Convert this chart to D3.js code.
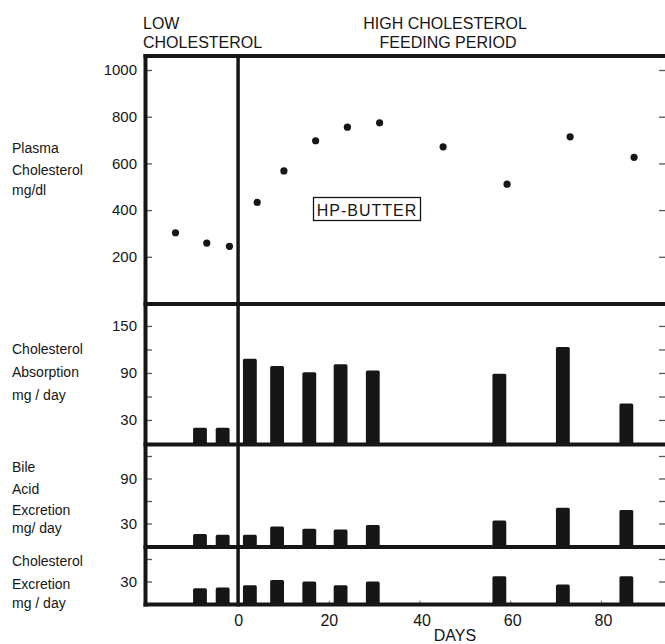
<!DOCTYPE html>
<html>
<head>
<meta charset="utf-8">
<script src="https://cdn.jsdelivr.net/npm/d3@7"></script>
<style>
  body { margin: 0; background: #fff; }
  svg { display: block; }
  text { font-family: "Liberation Sans", Arial, sans-serif; fill: #161616; }
</style>
</head>
<body>
<svg id="chart" width="665" height="644"></svg>
<script>
// values (days from start of high cholesterol feeding)
const plasmaDays = [-13.8, -6.9, -1.9, 4.2, 10.1, 17.1, 24.1, 31.2, 45.2, 59.3, 73.2, 87.3]
const plasmaChol = [303, 259, 245, 433, 568, 697, 755, 774, 671, 511, 714, 626]

const barDays = [-8.4, -3.4, 2.6, 8.6, 15.7, 22.6, 29.7, 57.6, 71.6, 85.6]
const absorption = [20, 20, 108, 99, 91, 101, 93, 89, 123, 51]
const bileAcid = [16, 15, 15, 26, 23, 22, 28, 34, 51, 48]
const cholExcretion = [21, 22, 25, 32, 30, 25, 30, 37, 26, 37]

const dayTicks = [0, 20, 40, 60, 80]
const plasmaTicks = [200, 400, 600, 800, 1000]
const absorptionTicks = [30, 60, 90, 120, 150]
const bileTicks = [30, 60, 90, 120]
const excretionTicks = [30, 60]

const ink = '#161616'
const svg = d3.select('#chart')

const x = d3.scaleLinear().domain([-20.3, 95]).range([146, 669])
const barW = x(3.05) - x(0)

const yPlasma = d3.scaleLinear().domain([0, 1060]).range([303.5, 56])
const yAbs = d3.scaleLinear().domain([0, 178]).range([443.5, 304])
const yBile = d3.scaleLinear().domain([0, 136]).range([546, 444])
const yExcr = d3.scaleLinear().domain([0, 76]).range([604, 547])

// y axes, ticks point inward on both sides
const drawYAxis = (scale, ticks, labelled) => {
  const left = svg.append('g').attr('transform', `translate(${x.range()[0]},0)`)
    .call(d3.axisLeft(scale).tickValues(ticks).tickSize(-6).tickPadding(9)
      .tickFormat(d => labelled.includes(d) ? d : ''))
  const right = svg.append('g').attr('transform', `translate(666,0)`)
    .call(d3.axisRight(scale).tickValues(ticks).tickSize(-7).tickFormat(''))
  ;[left, right].forEach(g => {
    g.select('.domain').remove()
    g.selectAll('.tick line').attr('stroke', '#555').attr('stroke-width', 1.3)
  })
  left.selectAll('.tick text').attr('font-size', 15).attr('fill', ink)
}

drawYAxis(yPlasma, plasmaTicks, plasmaTicks)
drawYAxis(yAbs, absorptionTicks, [30, 90, 150])
drawYAxis(yBile, bileTicks, [30, 90])
drawYAxis(yExcr, excretionTicks, [30])

// x axis
const xAxis = svg.append('g').attr('transform', 'translate(0,604.5)')
  .call(d3.axisBottom(x).tickValues(dayTicks).tickSize(-4).tickPadding(10))
xAxis.select('.domain').remove()
xAxis.selectAll('.tick line').attr('stroke', '#777').attr('stroke-width', 1)
xAxis.selectAll('.tick text').attr('font-size', 16).attr('fill', ink)
  .attr('dx', d => d > 20 ? 2 : 0)

// bars
const drawBars = (values, scale) => {
  svg.append('g').selectAll('rect')
    .data(values)
    .join('rect')
    .attr('x', (d, i) => x(barDays[i]) - barW / 2)
    .attr('y', d => scale(d))
    .attr('width', barW)
    .attr('height', d => scale(0) - scale(d) + 1)
    .attr('rx', 1.5)
    .attr('fill', ink)
}
drawBars(absorption, yAbs)
drawBars(bileAcid, yBile)
drawBars(cholExcretion, yExcr)

// plasma points
svg.append('g').selectAll('circle')
  .data(plasmaChol)
  .join('circle')
  .attr('cx', (d, i) => x(plasmaDays[i]))
  .attr('cy', d => yPlasma(d))
  .attr('r', 3.6)
  .attr('fill', ink)

// frame
const frame = svg.append('g').attr('stroke', ink).attr('stroke-width', 4)
;[56, 304, 444.5, 547, 604.5].forEach(yy => {
  frame.append('line').attr('x1', 143.5).attr('x2', 669).attr('y1', yy).attr('y2', yy)
})
frame.append('line').attr('x1', 145.5).attr('x2', 145.5).attr('y1', 54).attr('y2', 606.5)
frame.append('line').attr('x1', x(0)).attr('x2', x(0)).attr('y1', 54).attr('y2', 606.5)
  .attr('stroke-width', 3.5)

// HP-BUTTER box
svg.append('rect').attr('x', 313.5).attr('y', 197.5).attr('width', 107).attr('height', 23)
  .attr('fill', 'none').attr('stroke', ink).attr('stroke-width', 1.3)
svg.append('text').attr('x', 367).attr('y', 216).attr('text-anchor', 'middle')
  .attr('font-size', 16).attr('letter-spacing', 1).text('HP-BUTTER')

// headers
const header = (txt, xx, yy, anchor) => svg.append('text')
  .attr('x', xx).attr('y', yy).attr('text-anchor', anchor)
  .attr('font-size', 16).text(txt)
header('LOW', 143, 29, 'start')
header('CHOLESTEROL', 143, 48, 'start')
header('HIGH CHOLESTEROL', 445, 28.5, 'middle')
header('FEEDING PERIOD', 448, 47.5, 'middle')
header('DAYS', 455, 641, 'middle')

// left labels
const sideLabels = [
  ['Plasma', 153], ['Cholesterol', 175], ['mg/dl', 195],
  ['Cholesterol', 354], ['Absorption', 377], ['mg / day', 400],
  ['Bile', 472], ['Acid', 494], ['Excretion', 515], ['mg/ day', 533],
  ['Cholesterol', 566], ['Excretion', 589], ['mg / day', 608]
]
svg.append('g').selectAll('text')
  .data(sideLabels)
  .join('text')
  .attr('x', 12)
  .attr('y', d => d[1])
  .attr('font-size', 14)
  .text(d => d[0])
</script>
</body>
</html>
